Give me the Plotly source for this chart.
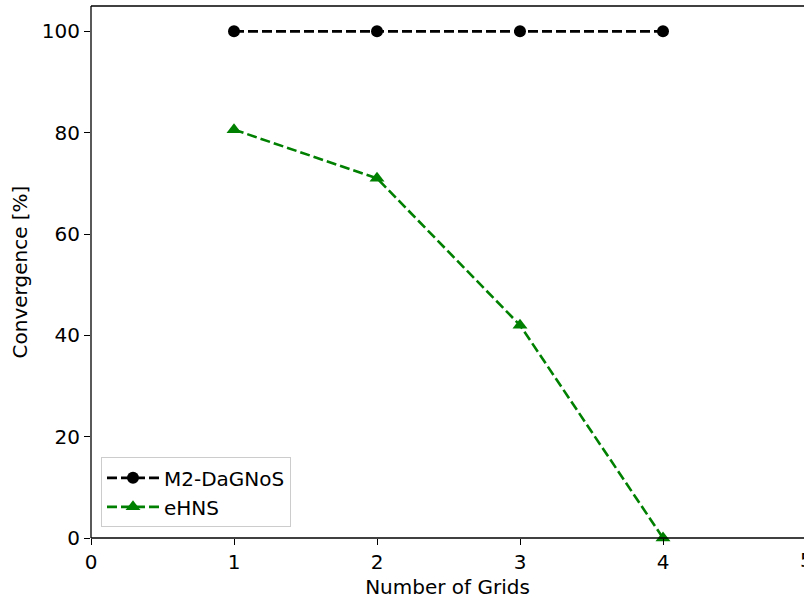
import plotly.graph_objects as go

grids = [1, 2, 3, 4]
m2_dagnos = [100, 100, 100, 100]
ehns = [80.6, 71.0, 42.0, 0.0]
x_ticks = [0, 1, 2, 3, 4]
y_ticks = [0, 20, 40, 60, 80, 100]

FONT = "DejaVu Sans"
FS = 20
fig = go.Figure()
fig.add_trace(go.Scatter(x=grids, y=m2_dagnos, mode="lines+markers", name="M2-DaGNoS",
                         line=dict(color="black", width=2.6, dash="10px,4px"),
                         marker=dict(symbol="circle", size=12, color="black"),
                         cliponaxis=False))
fig.add_trace(go.Scatter(x=grids, y=ehns, mode="lines+markers", name="eHNS",
                         line=dict(color="green", width=2.6, dash="10px,4px"),
                         marker=dict(symbol="triangle-up", size=13, color="green"),
                         cliponaxis=False))

xmax = 5 * 713 / 715
fig.update_layout(
    width=804, height=601,
    margin=dict(l=91, r=0, t=6, b=63),
    plot_bgcolor="white", paper_bgcolor="white",
    font=dict(family=FONT, size=FS, color="black"),
    xaxis=dict(range=[0, xmax], tickvals=x_ticks, showgrid=False, zeroline=False,
               showline=False,
               ticks="outside", ticklen=6, tickcolor="black", tickwidth=1.3,
               title=dict(text="Number of Grids", font=dict(size=FS), standoff=6)),
    yaxis=dict(range=[0, 105], tickvals=y_ticks, showgrid=False, zeroline=False,
               showline=False,
               ticks="outside", ticklen=6, tickcolor="black", tickwidth=1.3,
               title=dict(text="Convergence [%]", font=dict(size=FS), standoff=8)),
    legend=dict(x=0.014, y=0.02, xanchor="left", yanchor="bottom",
                bordercolor="#cccccc", borderwidth=1, bgcolor="rgba(255,255,255,0.8)",
                font=dict(size=FS), itemwidth=52, tracegroupgap=0),
    showlegend=True,
)
spine = dict(color="black", width=1.3)
fig.add_shape(type="line", xref="paper", yref="paper", x0=0, x1=1.01, y0=1, y1=1, line=spine)
fig.add_shape(type="line", xref="paper", yref="paper", x0=0, x1=1.01, y0=0, y1=0, line=spine)
fig.add_shape(type="line", xref="paper", yref="paper", x0=0, x1=0, y0=0, y1=1, line=spine)
fig.add_annotation(x=5 / xmax, y=0, xref="paper", yref="paper", text="5", showarrow=False,
                   xanchor="center", yanchor="top", yshift=-8, font=dict(size=FS, family=FONT))
fig.write_html("out.html")
